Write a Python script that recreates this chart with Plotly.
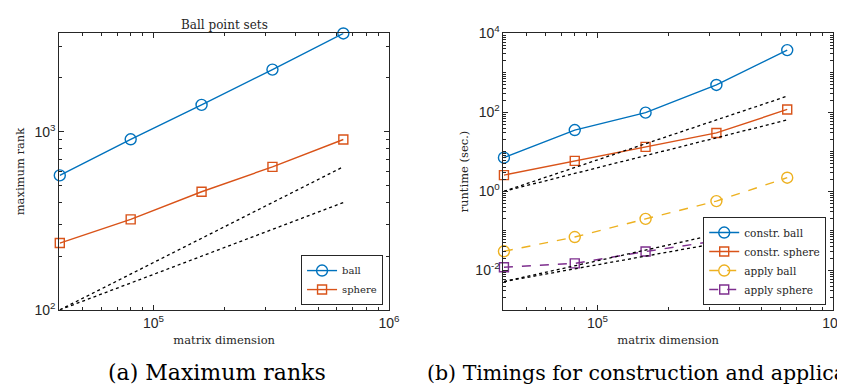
import plotly.graph_objects as go
import math

# ---------------- data ----------------
n_dim = [4e4, 8e4, 1.6e5, 3.2e5, 6.4e5]

rank_ball = [568, 906, 1412, 2228, 3556]
rank_sphere = [237, 322, 460, 634, 903]

ref_x = [4e4, 6.4e5]
rank_ref_23 = [100, 635]   # ~N^(2/3)
rank_ref_12 = [100, 400]   # ~N^(1/2)

t_constr_ball = [7.1, 35.5, 98, 492, 3750]
t_constr_sphere = [2.57, 5.9, 13.3, 30, 118]
t_apply_ball = [0.0303, 0.0697, 0.2, 0.565, 2.21]
t_apply_sphere = [0.0120, 0.0150, 0.0299, 0.0558, 0.130]

t_ref_hi_a = [1.0, 256]
t_ref_hi_b = [1.0, 64]
t_ref_lo_a = [0.0052, 0.204]
t_ref_lo_b = [0.0052, 0.101]

left_ytick_vals = [1e2, 1e3]
left_ytick_text = ["10<sup>2</sup>", "10<sup>3</sup>"]
right_ytick_vals = [1e-2, 1e0, 1e2, 1e4]
right_ytick_text = ["10<sup>-2</sup>", "10<sup>0</sup>", "10<sup>2</sup>", "10<sup>4</sup>"]
xtick_vals = [1e5, 1e6]
xtick_text = ["10<sup>5</sup>", "10<sup>6</sup>"]

# ---------------- style ----------------
BLUE = "#0072BD"
ORANGE = "#D95319"
YELLOW = "#EDB120"
PURPLE = "#7E2F8E"
FRAME = "#262626"
SERIF = "DejaVu Serif"
SANS = "Liberation Sans"
W, H = 845, 389


def minor_vals(lo, hi):
    out = []
    for e in range(lo, hi + 1):
        for m in range(1, 10):
            out.append(m * 10 ** e)
    return out


fig = go.Figure()


def add(x, y, name, color, symbol, size, dash, xa, ya, legend, show=True):
    fig.add_trace(go.Scatter(
        x=x, y=y, name=name, mode="lines+markers",
        line=dict(color=color, width=1.4, dash=dash),
        marker=dict(symbol=symbol, size=size, color=color,
                    line=dict(color=color, width=1.4)),
        xaxis=xa, yaxis=ya, legend=legend, showlegend=show,
        cliponaxis=False))


def ref(x, y, xa, ya):
    fig.add_trace(go.Scatter(
        x=x, y=y, mode="lines", line=dict(color="black", width=1.3, dash="dot"),
        xaxis=xa, yaxis=ya, showlegend=False, hoverinfo="skip"))


# left panel
add(n_dim, rank_ball, "ball", BLUE, "circle-open", 11, "solid", "x", "y", "legend")
add(n_dim, rank_sphere, "sphere", ORANGE, "square-open", 9, "solid", "x", "y", "legend")
ref(ref_x, rank_ref_23, "x", "y")
ref(ref_x, rank_ref_12, "x", "y")

# right panel
add(n_dim, t_constr_ball, "constr. ball", BLUE, "circle-open", 11, "solid", "x2", "y2", "legend2")
add(n_dim, t_constr_sphere, "constr. sphere", ORANGE, "square-open", 9, "solid", "x2", "y2", "legend2")
add(n_dim, t_apply_ball, "apply ball", YELLOW, "circle-open", 11, "dash", "x2", "y2", "legend2")
add(n_dim, t_apply_sphere, "apply sphere", PURPLE, "square-open", 9, "dash", "x2", "y2", "legend2")
ref(ref_x, t_ref_hi_a, "x2", "y2")
ref(ref_x, t_ref_hi_b, "x2", "y2")
ref(ref_x, t_ref_lo_a, "x2", "y2")
ref(ref_x, t_ref_lo_b, "x2", "y2")


def axis(domain, rng, tv, tt, minors, anchor, title=None, standoff=None):
    d = dict(
        type="log", domain=domain, range=rng, anchor=anchor,
        tickmode="array", tickvals=tv, ticktext=tt,
        ticks="inside", ticklen=5, tickwidth=1, tickcolor=FRAME,
        showline=True, linecolor=FRAME, linewidth=1, mirror="ticks",
        showgrid=False, zeroline=False,
        tickfont=dict(family=SANS, size=14, color="#262626"),
        minor=dict(tickmode="array", tickvals=minors, ticks="inside",
                   ticklen=3, tickwidth=1, tickcolor=FRAME, showgrid=False),
    )
    if title:
        d["title"] = dict(text=title, font=dict(family=SERIF, size=11.5, color="#262626"),
                          standoff=standoff)
    return d


y_dom = [1 - 306 / H, 1 - 16 / H]
xL = [52 / W, 386 / W]
xR = [502 / W, 835.7 / W]
xr = [math.log10(4e4) - 0.002, 6]

fig.update_layout(
    width=W, height=H, margin=dict(l=0, r=0, t=0, b=0),
    paper_bgcolor="white", plot_bgcolor="white",
    font=dict(family=SERIF),
    xaxis=axis(xL, xr, xtick_vals, xtick_text, minor_vals(4, 5), "y",
               "matrix dimension", 6),
    yaxis=axis(y_dom, [2, math.log10(max(rank_ball)) + 0.001], left_ytick_vals, left_ytick_text,
               minor_vals(2, 3), "x", "maximum rank", 7),
    xaxis2=axis(xR, xr, xtick_vals, xtick_text, minor_vals(4, 5), "y2",
                "matrix dimension", 6),
    yaxis2=axis(y_dom, [-3, 4], right_ytick_vals, right_ytick_text,
                minor_vals(-3, 3), "x2", "runtime (sec.)", 4),
    legend=dict(x=380 / W, y=1 - 301 / H, xanchor="right", yanchor="bottom",
                bgcolor="white", bordercolor=FRAME, borderwidth=1,
                font=dict(family=SERIF, size=10, color="#262626"),
                itemwidth=30, tracegroupgap=0),
    legend2=dict(x=829 / W, y=1 - 301 / H, xanchor="right", yanchor="bottom",
                 bgcolor="white", bordercolor=FRAME, borderwidth=1,
                 font=dict(family=SERIF, size=10.5, color="#262626"),
                 itemwidth=30, tracegroupgap=0),
    annotations=[
        dict(text="Ball point sets", x=(52 + 386) / 2 / W, y=1 - 7 / H, xref="paper", yref="paper",
             showarrow=False, xanchor="center", yanchor="middle",
             font=dict(family=SERIF, size=12, color="#262626")),
        dict(text="(a) Maximum ranks", x=212 / W, y=1 - 372 / H, xref="paper", yref="paper",
             showarrow=False, xanchor="center", yanchor="middle",
             font=dict(family=SERIF, size=22, color="black")),
        dict(text="(b) Timings for construction and application", x=422 / W, y=1 - 372 / H,
             xref="paper", yref="paper",
             showarrow=False, xanchor="left", yanchor="middle",
             font=dict(family=SERIF, size=20.5, color="black")),
    ],
)

fig.write_html("out.html")
